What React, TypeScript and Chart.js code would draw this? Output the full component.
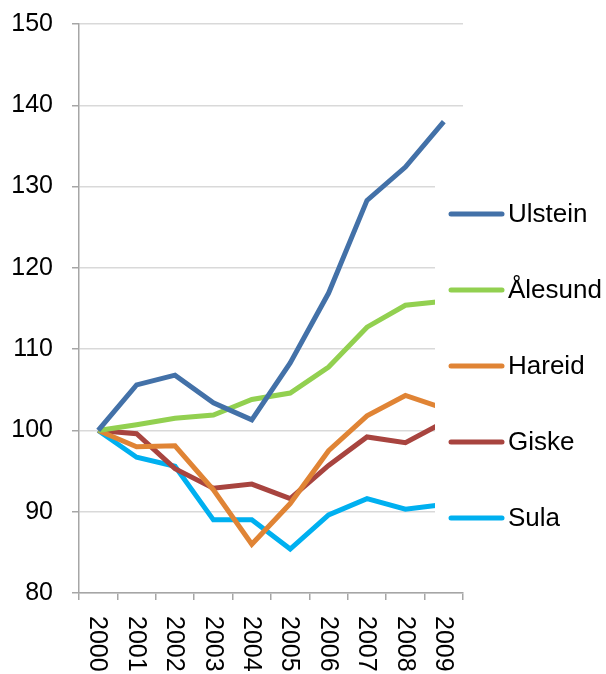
import { useEffect, useRef } from "react";
import { Chart, registerables } from "chart.js";

Chart.register(...registerables);

const years = ["2000", "2001", "2002", "2003", "2004", "2005", "2006", "2007", "2008", "2009"];
const seriesNames = ["Ulstein", "Ålesund", "Hareid", "Giske", "Sula"];
const ulstein = [100, 105.6, 106.8, 103.4, 101.3, 108.3, 116.9, 128.3, 132.4, 138.0];
const alesund = [100, 100.7, 101.5, 101.9, 103.8, 104.6, 107.8, 112.7, 115.4, 115.9];
const hareid = [100, 98.0, 98.1, 92.7, 86.0, 91.0, 97.5, 101.8, 104.3, 102.7];
const giske = [100, 99.6, 95.3, 92.9, 93.4, 91.6, 95.7, 99.2, 98.5, 101.0];
const sula = [100, 96.7, 95.6, 89.0, 89.0, 85.4, 89.6, 91.6, 90.3, 90.9];
const yMin = 80;
const yMax = 150;
const yStep = 10;

const colors = ["#4371A8", "#92D050", "#E08435", "#A8443F", "#00B0F0"];
const FONT = "'Liberation Sans', Arial, sans-serif";

const overlayPlugin = {
  id: "overlay",
  afterDraw(chart: any) {
    const ctx = chart.ctx;
    const xs = chart.scales.x;
    ctx.save();
    // x tick labels, rotated clockwise
    ctx.fillStyle = "#000";
    ctx.font = `25px ${FONT}`;
    ctx.textAlign = "left";
    ctx.textBaseline = "middle";
    years.forEach((label, i) => {
      const x = xs.getPixelForValue(i);
      ctx.save();
      ctx.translate(x - 1, xs.top + 23);
      ctx.rotate(Math.PI / 2);
      ctx.fillText(label, 0, 0);
      ctx.restore();
    });
    // legend box
    const boxLeft = 435;
    ctx.fillStyle = "#fff";
    ctx.fillRect(boxLeft, 150, chart.width - boxLeft, 420);
    const ds = chart.data.datasets;
    ds.forEach((d: any, i: number) => {
      const y = 214 + i * 76;
      ctx.strokeStyle = d.borderColor;
      ctx.lineWidth = 5;
      ctx.lineCap = "round";
      ctx.beginPath();
      ctx.moveTo(451, y);
      ctx.lineTo(502, y);
      ctx.stroke();
      ctx.fillStyle = "#000";
      ctx.font = `26px ${FONT}`;
      ctx.textAlign = "left";
      ctx.textBaseline = "middle";
      ctx.fillText(d.label, 508, y + 1);
    });
    ctx.restore();
  },
};

export default function App() {
  const ref = useRef<HTMLCanvasElement | null>(null);
  useEffect(() => {
    if (!ref.current) return;
    const values = [ulstein, alesund, hareid, giske, sula];
    const chart = new Chart(ref.current, {
      type: "line",
      data: {
        labels: years,
        datasets: seriesNames.map((name, i) => ({
          label: name,
          data: values[i],
          borderColor: colors[i],
          backgroundColor: colors[i],
          borderWidth: 5,
          pointRadius: 0,
          tension: 0,
          fill: false,
        })),
      },
      options: {
        animation: false,
        responsive: false,
        devicePixelRatio: 1,
        layout: { padding: { top: 24, right: 143, left: 0, bottom: 0 } },
        plugins: { legend: { display: false }, tooltip: { enabled: false } },
        scales: {
          x: {
            type: "category",
            offset: true,
            grid: {
              offset: true,
              drawOnChartArea: false,
              tickLength: 7,
              tickColor: "#a6a6a6",
              lineWidth: 1.5,
            },
            border: { color: "#a6a6a6", width: 1.5 },
            ticks: { display: false },
            afterFit: (s: any) => {
              s.height = 81;
              s.paddingLeft = 0;
              s.paddingRight = 0;
            },
          },
          y: {
            min: yMin,
            max: yMax,
            ticks: {
              stepSize: yStep,
              color: "#000",
              font: { family: FONT, size: 25 },
              padding: 19,
            },
            grid: {
              color: "#d9d9d9",
              lineWidth: 1.5,
              tickLength: 7,
              tickColor: "#a6a6a6",
            },
            border: { color: "#a6a6a6", width: 1.5 },
            afterFit: (s: any) => {
              s.width = 79;
              s.paddingTop = 0;
              s.paddingBottom = 0;
            },
          },
        },
      },
      plugins: [overlayPlugin],
    });
    return () => chart.destroy();
  }, []);
  return (
    <div style={{ position: "fixed", left: 0, top: 0, width: 606, height: 674, background: "#fff" }}>
      <canvas ref={ref} width={606} height={674} />
    </div>
  );
}
